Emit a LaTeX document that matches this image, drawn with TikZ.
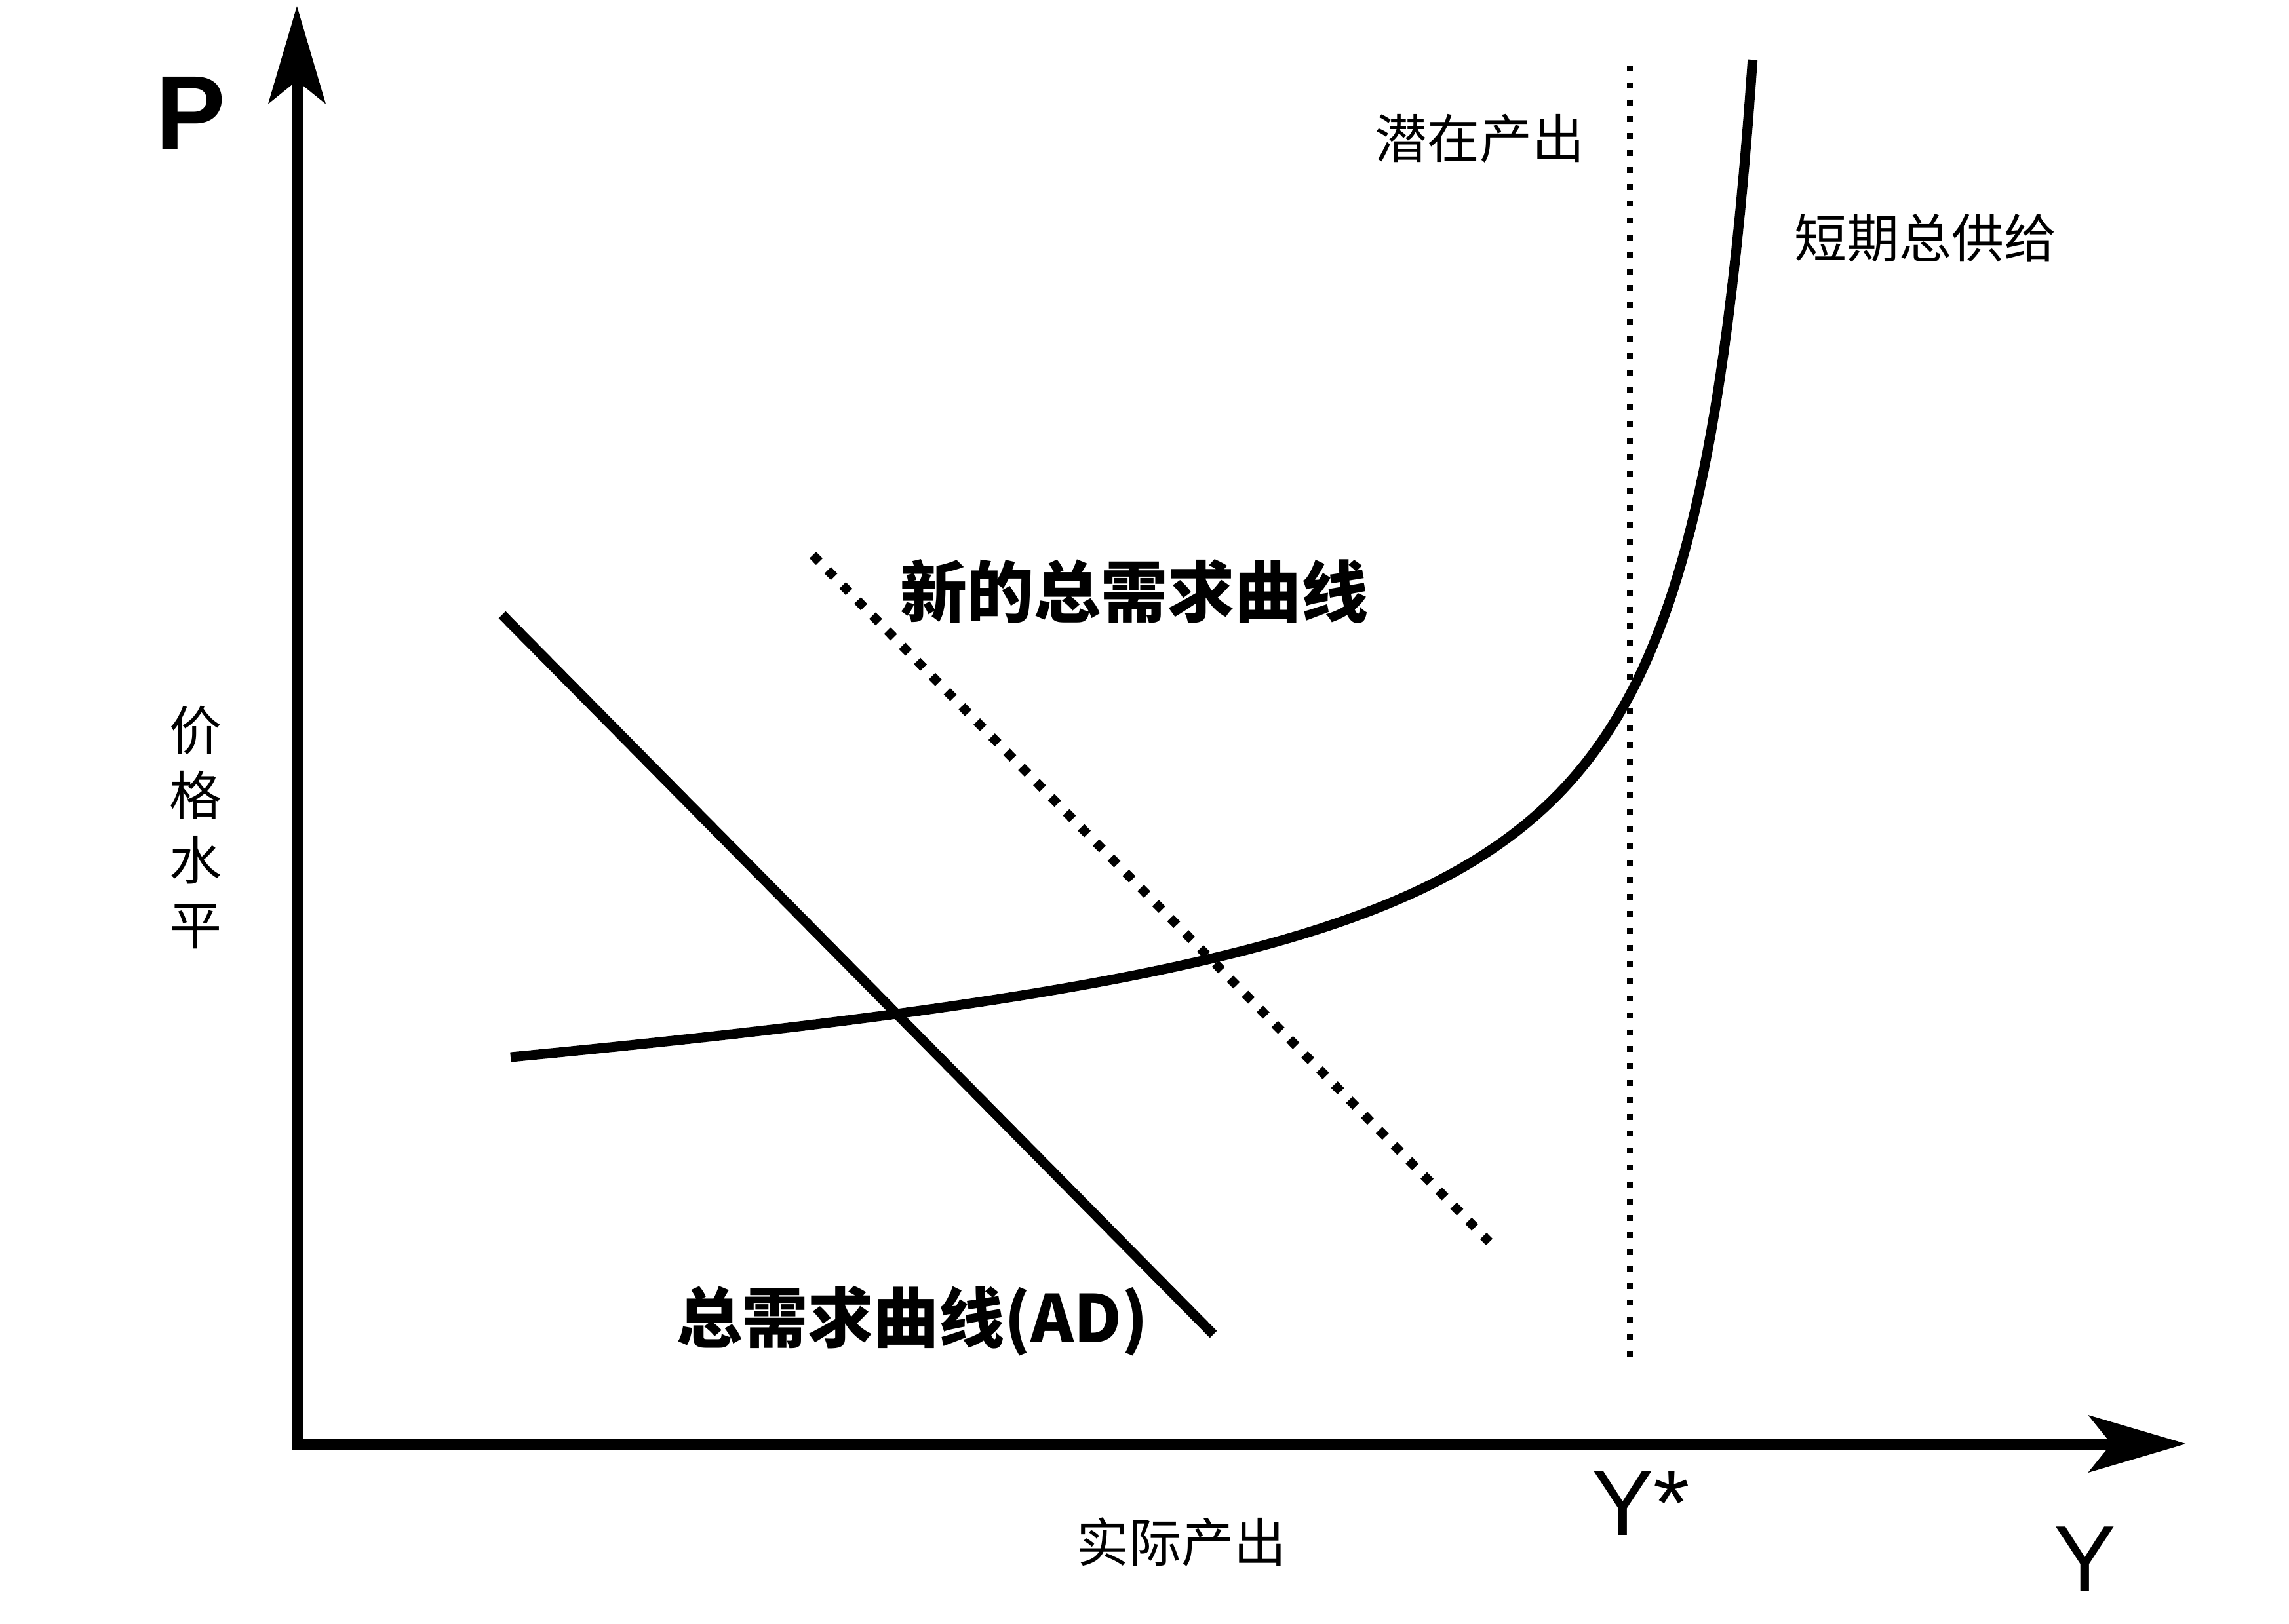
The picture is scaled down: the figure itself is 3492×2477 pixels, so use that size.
\documentclass[tikz,border=0pt]{standalone}
\usepackage{fontspec}
\newfontfamily\cjk{Noto Sans CJK SC}
\newfontfamily\lat{Liberation Sans}
\usetikzlibrary{arrows.meta}
\begin{document}
\begin{tikzpicture}[x=0.25pt,y=-0.25pt,
  axisline/.style={line width=4.25pt,line join=miter,
    {Stealth[length=37pt,width=21.5pt,inset=8.5pt]}-{Stealth[length=37pt,width=21.5pt,inset=8.5pt]}},
  curveline/.style={line width=3.75pt},
  potline/.style={line width=2.25pt,dash pattern=on 2.25pt off 4.2pt},
  newadline/.style={line width=3.5pt,dash pattern=on 3.5pt off 4.6pt},
  reglabel/.style={inner sep=0pt,font={\cjk\fontsize{20pt}{24pt}\selectfont}},
  boldlabel/.style={inner sep=0pt,font={\cjk\bfseries\fontsize{25.5pt}{30pt}\selectfont}},
  latlabel/.style={inner sep=0pt,font={\lat\fontsize{35.5pt}{40pt}\selectfont}}
]
\useasboundingbox[fill=white] (0,0) rectangle (3492,2477);

% axes
\coordinate (O) at (453,2203);
\coordinate (Ytip) at (453,9);
\coordinate (Xtip) at (3335,2203);
\draw[axisline] (Ytip) -- (O) -- (Xtip);

% potential output (dotted vertical)
\coordinate (PotTop) at (2486,100);
\coordinate (PotBot) at (2486,2083);
\draw[potline] (PotTop) -- (PotBot);

% aggregate demand
\coordinate (ADa) at (766,938);
\coordinate (ADb) at (1851,2036);
\draw[curveline] (ADa) -- (ADb);

% new aggregate demand (dotted)
\coordinate (NADa) at (1240,847);
\coordinate (NADb) at (2272,1895);
\draw[newadline] (NADa) -- (NADb);

% short-run aggregate supply
\draw[curveline,line join=round] plot[domain=7.79:26.74,samples=300,variable=\s]
  ({100*\s},{1735.2-5.7*\s-1555/(27.78-\s)});

% labels
\node[inner sep=0pt,font={\lat\bfseries\fontsize{40pt}{44pt}\selectfont}] (P) at (291,172) {P};
\node[reglabel,align=center,font={\cjk\fontsize{20pt}{24.75pt}\selectfont}] (price) at (298,1262) {价\\格\\水\\平};
\node[reglabel] (pot) at (2257,211) {潜在产出};
\node[reglabel] (sras) at (2937,363) {短期总供给};
\node[reglabel] (real) at (1802,2353) {实际产出};
\node[latlabel] (Ystar) at (2503,2294) {Y*};
\node[latlabel] (Y) at (3181,2379) {Y};
\node[boldlabel] (newad) at (1730,902) {新的总需求曲线};
\node[boldlabel,font={\cjk\bfseries\fontsize{25pt}{30pt}\selectfont}] (ad) at (1392,2016) {总需求曲线(AD)};
\end{tikzpicture}
\end{document}
